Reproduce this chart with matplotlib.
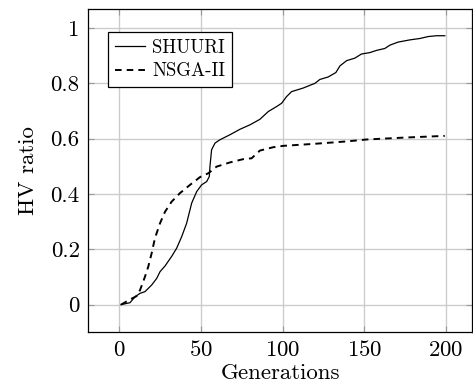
import matplotlib.pyplot as plt
import numpy as np

# values
shuuri_gen = [1, 6.5, 9.7, 12.7, 15.7, 19.8, 22.9, 24.9, 28, 32, 35.1, 38.2, 41.2,
              44.3, 47.4, 50.4, 53.5, 55.1, 55.5, 56.5, 58.6, 61.6, 67.7, 73.9, 80,
              86.1, 91.2, 96.3, 99.4, 102.4, 105.5, 112.6, 119.8, 122.8, 127.9,
              132.6, 135.1, 139.2, 144.2, 148.3, 153.4, 157.5, 162.6, 165.7, 170.7,
              177.9, 184, 189.1, 194.2, 199.3]
shuuri_hv = [0, 0.007, 0.029, 0.041, 0.047, 0.071, 0.095, 0.119, 0.14, 0.174, 0.204,
             0.246, 0.294, 0.367, 0.409, 0.433, 0.445, 0.463, 0.5, 0.56, 0.584, 0.596,
             0.614, 0.634, 0.65, 0.67, 0.698, 0.716, 0.728, 0.752, 0.77, 0.783, 0.8,
             0.814, 0.823, 0.839, 0.863, 0.882, 0.891, 0.906, 0.911, 0.919, 0.926,
             0.938, 0.949, 0.957, 0.962, 0.969, 0.972, 0.972]

nsga_gen = [1, 7, 10.6, 12.7, 15.7, 17.7, 19.8, 21.8, 24.9, 28, 32, 37.1, 43.3, 49.4,
            54.5, 59.6, 67.7, 75.9, 81, 86.1, 94.2, 100.4, 118.7, 139.2, 151.4, 175,
            199.3]
nsga_hv = [0, 0.02, 0.031, 0.053, 0.101, 0.137, 0.186, 0.24, 0.294, 0.336, 0.372,
           0.403, 0.433, 0.461, 0.475, 0.499, 0.514, 0.526, 0.529, 0.557, 0.569,
           0.574, 0.581, 0.59, 0.597, 0.604, 0.61]

plt.rcParams['font.family'] = 'cmr10'
plt.rcParams['axes.formatter.use_mathtext'] = True

fig = plt.figure(figsize=(4.73, 3.87), dpi=100)
ax = fig.add_axes([0.186, 0.142, 0.812, 0.835])

ax.plot(shuuri_gen, shuuri_hv, color='black', lw=0.9, label='SHUURI')
ax.plot(nsga_gen, nsga_hv, color='black', lw=1.4, dashes=(3.4, 2.6), label='NSGA-II')

ax.set_xlim(-19.2, 216)
ax.set_ylim(-0.099, 1.069)
ax.set_xticks([0, 50, 100, 150, 200])
ax.set_yticks([0, 0.2, 0.4, 0.6, 0.8, 1])
ax.set_yticklabels(['0', '0.2', '0.4', '0.6', '0.8', '1'])
ax.grid(True, color='#cccccc', lw=1)
ax.set_axisbelow(True)
ax.tick_params(direction='in', length=4, color='#999999', labelsize=16.5,
               top=True, right=True, pad=6)
for s in ax.spines.values():
    s.set_linewidth(0.9)

ax.set_xlabel('Generations', fontsize=16.5, labelpad=2)
ax.set_ylabel('HV ratio', fontsize=16.5, labelpad=9)

leg = ax.legend(loc='upper left', bbox_to_anchor=(0.053, 0.928), fontsize=13.5,
                frameon=True, fancybox=False, edgecolor='black', framealpha=1,
                borderpad=0.35, handlelength=1.6, handletextpad=0.4,
                labelspacing=0.3, borderaxespad=0)
leg.get_frame().set_linewidth(0.9)

fig.savefig('out.png', dpi=100)
